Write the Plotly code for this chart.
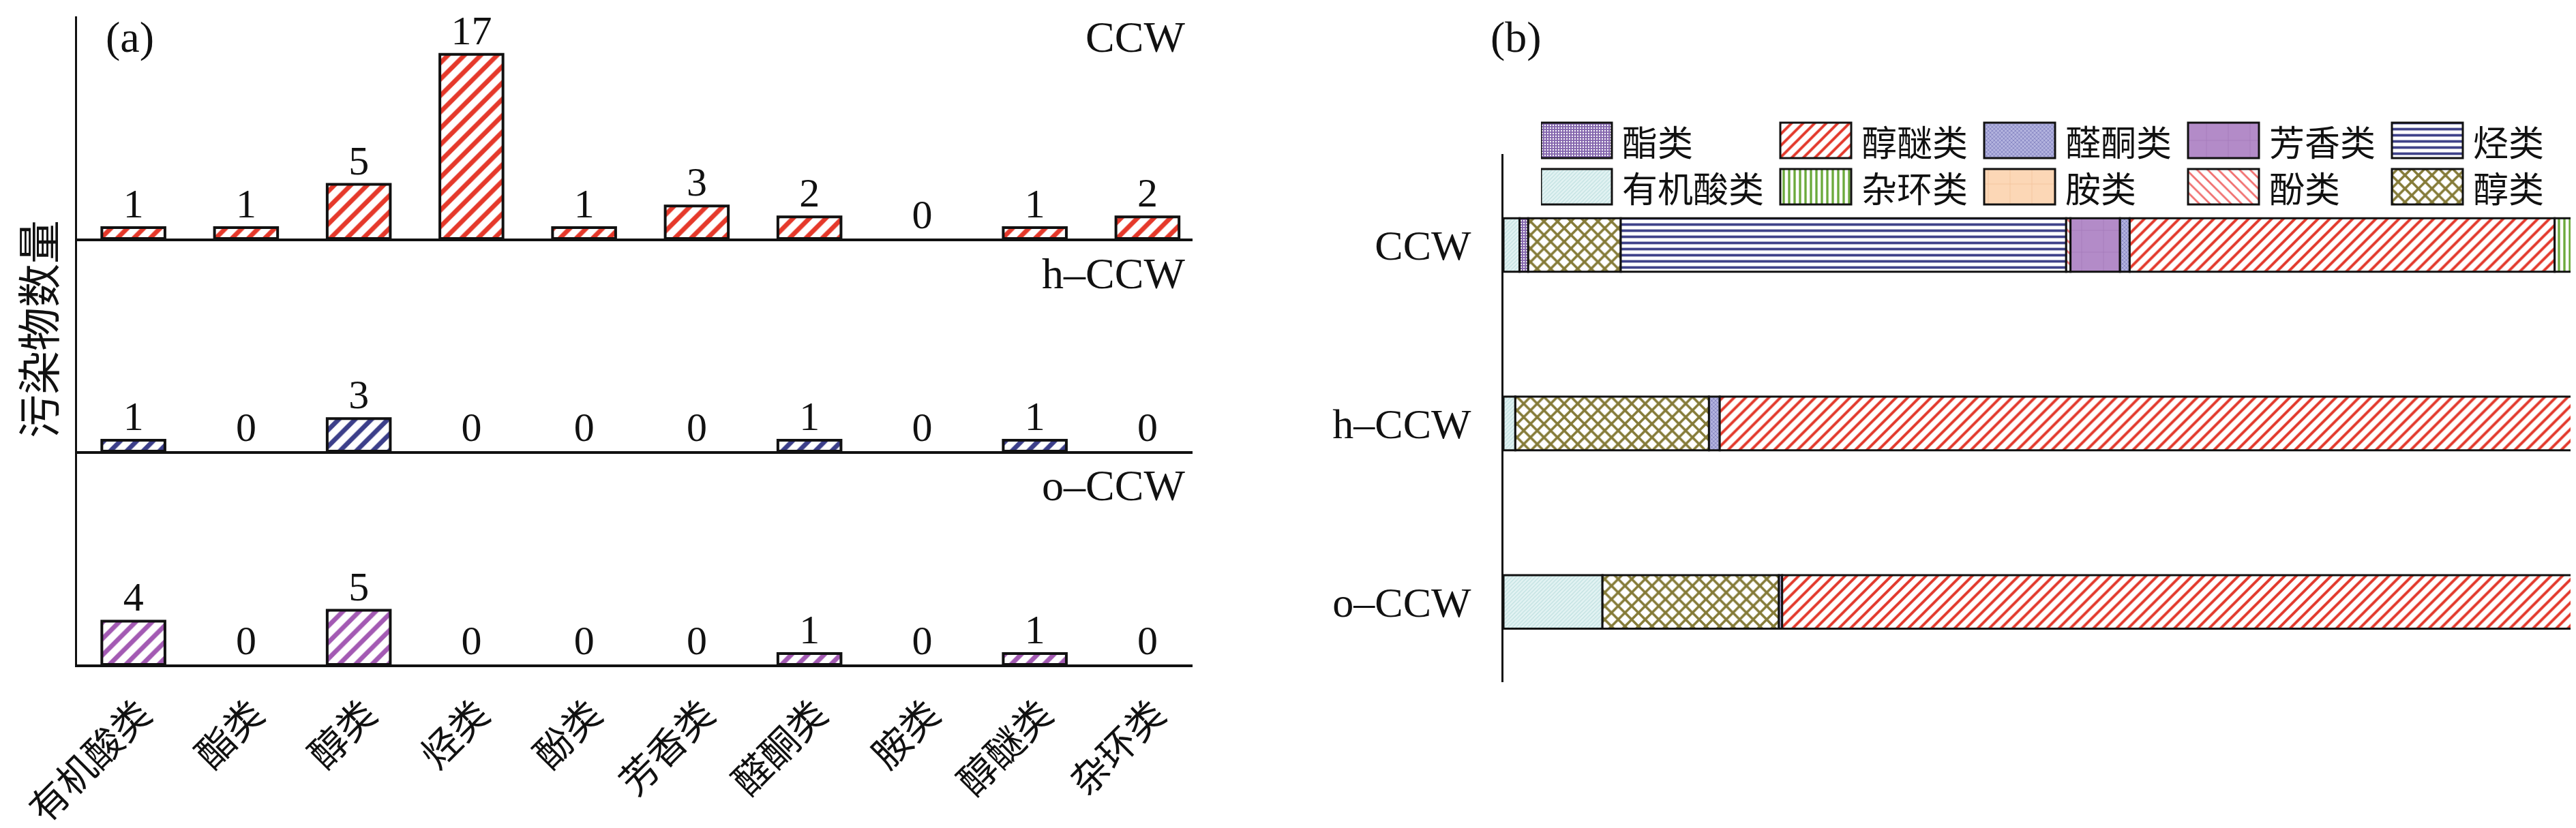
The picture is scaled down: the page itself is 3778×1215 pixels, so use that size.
import plotly.graph_objects as go

W, H = 3778, 1215

# ---------------- data: panel (a) counts ----------------
categories = ["有机酸类", "酯类", "醇类", "烃类", "酚类", "芳香类", "醛酮类", "胺类", "醇醚类", "杂环类"]
ccw_counts = [1, 1, 5, 17, 1, 3, 2, 0, 1, 2]
hccw_counts = [1, 0, 3, 0, 0, 0, 1, 0, 1, 0]
occw_counts = [4, 0, 5, 0, 0, 0, 1, 0, 1, 0]
panel_a_names = ["CCW", "h–CCW", "o–CCW"]

# ---------------- data: panel (b) shares (%) ----------------
samples = ["CCW", "h–CCW", "o–CCW"]
share_acid = [1.5, 1.1, 9.2]            # 有机酸类
share_ester = [0.8, 0.0, 0.0]           # 酯类
share_alcohol = [8.6, 18.0, 16.4]       # 醇类
share_hydrocarbon = [41.4, 0.0, 0.0]    # 烃类
share_phenol = [0.4, 0.0, 0.0]          # 酚类
share_aromatic = [4.6, 0.0, 0.0]        # 芳香类
share_carbonyl = [0.9, 1.0, 0.3]        # 醛酮类
share_amine = [0.0, 0.0, 0.0]           # 胺类
share_alcohol_ether = [39.5, 79.9, 74.1]  # 醇醚类
share_heterocycle = [2.3, 0.0, 0.0]     # 杂环类

stack_names = ["有机酸类", "酯类", "醇类", "烃类", "酚类", "芳香类", "醛酮类", "胺类", "醇醚类", "杂环类"]
stack_values = [share_acid, share_ester, share_alcohol, share_hydrocarbon, share_phenol,
                share_aromatic, share_carbonyl, share_amine, share_alcohol_ether, share_heterocycle]
legend_rows = [["酯类", "醇醚类", "醛酮类", "芳香类", "烃类"],
               ["有机酸类", "杂环类", "胺类", "酚类", "醇类"]]

# ---------------- styles ----------------
FONT = "Liberation Serif, Noto Sans CJK SC, serif"
CJK = "Noto Sans CJK SC, Liberation Serif"

styles = {
    "有机酸类": dict(bg="#e3f3f3", fg="#bfe0e0", shape="/", size=4, solidity=0.3),
    "酯类": dict(bg="#8466ad", fg="#ffffff", shape=".", size=4, solidity=0.25),
    "醇类": dict(bg="#ffffff", fg="#857b38", shape="x", size=14, solidity=0.45),
    "烃类": dict(bg="#ffffff", fg="#3f4289", shape="-", size=9, solidity=0.42),
    "酚类": dict(bg="#ffffff", fg="#f06e6e", shape="\\", size=11, solidity=0.25),
    "芳香类": dict(bg="#b38bc8", fg="#a479ba", shape="+", size=32, solidity=0.05),
    "醛酮类": dict(bg="#b4b4df", fg="#6e6eb4", shape="x", size=4, solidity=0.3),
    "胺类": dict(bg="#fcd7b6", fg="#f3c39b", shape="+", size=32, solidity=0.05),
    "醇醚类": dict(bg="#ffffff", fg="#e3392c", shape="/", size=12, solidity=0.33),
    "杂环类": dict(bg="#ffffff", fg="#6caa3c", shape="|", size=8, solidity=0.42),
}
panel_a_colors = ["#e5392b", "#3c3f8a", "#a35ab3"]


def fx(p):
    return p / W


def fy(p):
    return 1 - p / H


def pattern(name):
    s = styles[name]
    return dict(shape=s["shape"], fgcolor=s["fg"], bgcolor=s["bg"], size=s["size"],
                solidity=s["solidity"], fillmode="replace")


fig = go.Figure()

# ---------------- panel (a) ----------------
PX_PER_UNIT = 15.9
bands = [(16, 342), (342, 654), (654, 967)]   # pixel top/bottom of each strip
counts_list = [ccw_counts, hccw_counts, occw_counts]
label_centers = [47, 393, 704]

layout_axes = {}
for i, (top, bot) in enumerate(bands):
    xa = "x" if i == 0 else f"x{i+1}"
    ya = "y" if i == 0 else f"y{i+1}"
    xkey = "xaxis" if i == 0 else f"xaxis{i+1}"
    ykey = "yaxis" if i == 0 else f"yaxis{i+1}"
    fig.add_trace(go.Bar(
        x=categories, y=[v if v > 0 else None for v in counts_list[i]],
        xaxis=xa, yaxis=ya, width=0.56,
        marker=dict(color="white",
                    line=dict(color="#111111", width=4),
                    pattern=dict(shape="/", fgcolor=panel_a_colors[i], bgcolor="white",
                                 size=17, solidity=0.4, fillmode="replace")),
        showlegend=False, hoverinfo="skip"))
    fig.add_trace(go.Scatter(
        x=categories, y=counts_list[i], xaxis=xa, yaxis=ya, mode="text",
        text=[str(v) for v in counts_list[i]], textposition="top center",
        textfont=dict(family=FONT, size=60, color="#111111"),
        cliponaxis=False, showlegend=False, hoverinfo="skip"))
    layout_axes[xkey] = dict(
        domain=[fx(105), fx(1741)], range=[-0.5, 9.4], anchor=ya, automargin=False,
        showline=True, linewidth=4, linecolor="#111111", ticks="",
        showgrid=False, zeroline=False, showticklabels=(i == 2),
        tickangle=-45, tickfont=dict(family=CJK, size=56, color="#111111"),
        ticklabelstandoff=14, ticklabelshift=10)
    layout_axes[ykey] = dict(
        domain=[fy(bot), fy(top)], range=[0, (bot - top) / PX_PER_UNIT], anchor=xa,
        automargin=False,
        showline=True, linewidth=3, linecolor="#111111", ticks="",
        showgrid=False, zeroline=False, showticklabels=False)

annotations = []
for name, cy in zip(panel_a_names, label_centers):
    annotations.append(dict(text=name, xref="paper", yref="paper", x=fx(1732), y=fy(cy),
                            xanchor="right", yanchor="middle", showarrow=False,
                            font=dict(family=FONT, size=64, color="#111111")))
annotations.append(dict(text="(a)", xref="paper", yref="paper", x=fx(182), y=fy(46),
                        xanchor="center", yanchor="middle", showarrow=False,
                        font=dict(family=FONT, size=64, color="#111111")))
annotations.append(dict(text="污染物数量", xref="paper", yref="paper", x=fx(45), y=fy(475),
                        xanchor="center", yanchor="middle", showarrow=False, textangle=-90,
                        font=dict(family=CJK, size=64, color="#111111")))
annotations.append(dict(text="(b)", xref="paper", yref="paper", x=fx(2215), y=fy(46),
                        xanchor="center", yanchor="middle", showarrow=False,
                        font=dict(family=FONT, size=64, color="#111111")))

# ---------------- panel (b): stacked shares ----------------
cum = [0.0, 0.0, 0.0]
for name, vals in zip(stack_names, stack_values):
    xs = [v if v > 0 else None for v in vals]
    fig.add_trace(go.Bar(
        y=samples, x=xs, base=list(cum), orientation="h", width=0.3,
        xaxis="x4", yaxis="y4", name=name,
        marker=dict(line=dict(color="#111111", width=3), pattern=pattern(name)),
        showlegend=False, hoverinfo="skip"))
    cum = [c + v for c, v in zip(cum, vals)]

layout_axes["xaxis4"] = dict(domain=[fx(2197), fx(3775)], range=[0, 100], anchor="y4",
                             visible=False, automargin=False)
layout_axes["yaxis4"] = dict(domain=[fy(993), fy(218)], anchor="x4", type="category",
                             categoryorder="array", categoryarray=samples, automargin=False,
                             range=[2.45, -0.51], showline=True, linewidth=3,
                             linecolor="#111111", ticks="", showgrid=False, zeroline=False,
                             tickfont=dict(family=FONT, size=62, color="#111111"),
                             ticklabelstandoff=32)

# ---------------- legend (swatches drawn as bars in a hidden strip) ----------------
LFONT = 52
SW_W, SW_H, TXT_GAP, COL_GAP = 104, 52, 13, 26
ROW_STEP = round(LFONT * 1.3)   # matches the line spacing of a two-line label
LEG_LEFT, LEG_TOP, LEG_BOT = 2252, 150, 310
ROW0_TOP = 172
ncols = len(legend_rows[0])
col_left = []
x0 = 0
for c in range(ncols):
    col_left.append(x0)
    maxc = max(len(row[c]) for row in legend_rows)
    x0 += SW_W + TXT_GAP + maxc * LFONT + COL_GAP
row_centers = [(ROW0_TOP - LEG_TOP) + SW_H / 2 + r * ROW_STEP for r in range(len(legend_rows))]
for r, row in enumerate(legend_rows):
    for c, name in enumerate(row):
        fig.add_trace(go.Bar(
            y=[row_centers[r]], x=[SW_W], base=[col_left[c]], orientation="h", width=SW_H,
            xaxis="x5", yaxis="y5",
            marker=dict(line=dict(color="#111111", width=3), pattern=pattern(name)),
            showlegend=False, hoverinfo="skip"))
for c in range(ncols):
    annotations.append(dict(text="<br>".join(row[c] for row in legend_rows),
                            xref="x5", yref="y5", x=col_left[c] + SW_W + TXT_GAP,
                            y=sum(row_centers) / len(row_centers), xanchor="left",
                            yanchor="middle", align="left", showarrow=False,
                            font=dict(family=CJK, size=LFONT, color="#111111")))
layout_axes["xaxis5"] = dict(domain=[fx(LEG_LEFT), 1.0], range=[0, W - LEG_LEFT],
                             anchor="y5", visible=False, automargin=False)
layout_axes["yaxis5"] = dict(domain=[fy(LEG_BOT), fy(LEG_TOP)], range=[LEG_BOT - LEG_TOP, 0],
                             anchor="x5", visible=False, automargin=False)

fig.update_layout(
    width=W, height=H, margin=dict(l=0, r=0, t=0, b=0, autoexpand=False),
    paper_bgcolor="white", plot_bgcolor="white",
    barmode="overlay", showlegend=False, hovermode=False,
    annotations=annotations, font=dict(family=FONT, color="#111111"),
    **layout_axes)

fig.write_html("out.html")
